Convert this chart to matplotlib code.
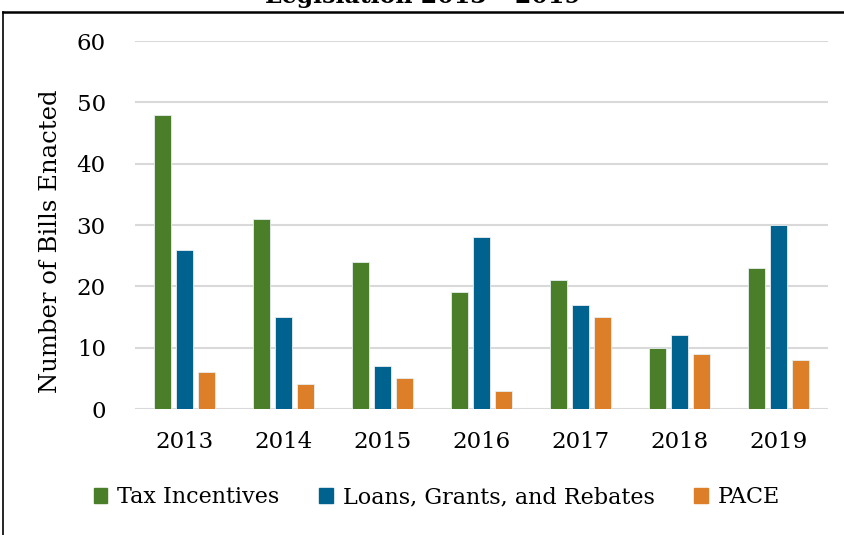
import matplotlib.pyplot as plt
import numpy as np
from matplotlib.lines import Line2D
from matplotlib.patches import Patch

years = ['2013', '2014', '2015', '2016', '2017', '2018', '2019']
tax = [48, 31, 24, 19, 21, 10, 23]
loans = [26, 15, 7, 28, 17, 12, 30]
pace = [6, 4, 5, 3, 15, 9, 8]
names = ['Tax Incentives', 'Loans, Grants, and Rebates', 'PACE']
colors = ['#4A7E28', '#00628E', '#DD7E28']

plt.rcParams['font.family'] = 'DejaVu Serif'

fig = plt.figure(figsize=(8.45, 5.35), dpi=100)
ax = fig.add_axes([135/845, 1-409/535, 693/845, 368/535])

x = np.arange(len(years))
w = 0.18
off = 0.222
for vals, c, k in zip([tax, loans, pace], colors, [-1, 0, 1]):
    ax.bar(x + k*off, vals, w, color=c, edgecolor='#e8eef0', linewidth=0.6, zorder=3)

ax.set_xlim(-0.5, 6.5)
ax.set_ylim(0, 60)
ax.set_yticks(range(0, 61, 10))
ax.set_xticks(x)
ax.set_xticklabels(years)
ax.grid(axis='y', color='#d9d9d9', linewidth=1.5, zorder=0)
for s in ax.spines.values():
    s.set_visible(False)
ax.tick_params(axis='both', length=0, labelsize=16.5)
ax.tick_params(axis='y', pad=21)
ax.tick_params(axis='x', pad=16)
ax.set_ylabel('Number of Bills Enacted', fontsize=17.5)
ax.yaxis.set_label_coords(-0.106, 0.456)

handles = [Patch(color=c) for c in colors]
fig.legend(handles, names, loc='center', bbox_to_anchor=(0.517, 1-497/535), ncol=3,
           frameon=False, fontsize=16, handlelength=0.6, handleheight=0.65,
           handletextpad=0.45, columnspacing=1.8)

fig.text(0.5, 1-3/535, 'Legislation 2013 \u2013 2019', ha='center', va='baseline',
         fontsize=17, fontweight='bold')

fig.add_artist(Line2D([3/845, 3/845], [0, 1-12/535], color='black', linewidth=1.2,
                      transform=fig.transFigure))
fig.add_artist(Line2D([3/845, 1], [1-12/535, 1-12/535], color='black', linewidth=1.8,
                      transform=fig.transFigure))

fig.savefig('out.png', dpi=100)
